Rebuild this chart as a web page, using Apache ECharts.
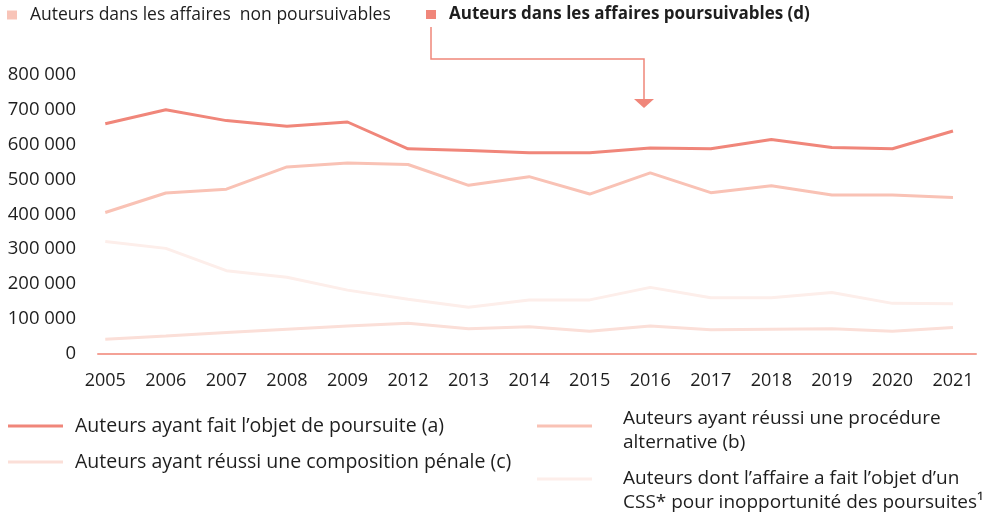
<!DOCTYPE html>
<html>
<head>
<meta charset="utf-8">
<script src="https://cdn.jsdelivr.net/npm/echarts@6/dist/echarts.min.js"></script>
<style>
  html, body { margin: 0; padding: 0; background: #fff; }
  #main { width: 988px; height: 513px; }
</style>
</head>
<body>
<div id="main"></div>
<script>
// annees (axe x)
var years = ["2005", "2006", "2007", "2008", "2009", "2012", "2013", "2014", "2015", "2016", "2017", "2018", "2019", "2020", "2021"];

// series
var poursuite = [660000, 700000, 669000, 653000, 665000, 588000, 583000, 577000, 577000, 590000, 588000, 615000, 592000, 588000, 639000];
var alternative = [405000, 461000, 472000, 536000, 547000, 543000, 483000, 508000, 458000, 519000, 462000, 482000, 455000, 455000, 448000];
var composition = [41000, 50000, 60000, 70000, 79000, 87000, 71000, 77000, 64000, 79000, 68000, 70000, 71000, 64000, 75000];
var css = [322000, 302000, 238000, 219000, 182000, 156000, 133000, 154000, 154000, 190000, 160000, 160000, 175000, 144000, 143000];

var nameA = "Auteurs ayant fait l\u2019objet de poursuite (a)";
var nameB = "Auteurs ayant réussi une procédure\nalternative (b)";
var nameC = "Auteurs ayant réussi une composition pénale (c)";
var nameCss = "Auteurs dont l\u2019affaire a fait l\u2019objet d\u2019un\nCSS* pour inopportunité des poursuites\u00b9";
var nameNon = "Auteurs dans les affaires  non poursuivables";
var nameD = "Auteurs dans les affaires poursuivables (d)";

var colA = "#f0867a";
var colB = "#f9c2b5";
var colC = "#fbdfd8";
var colCss = "#fdeeea";
var FONT = "Open Sans";

// trait de legende place en haut de l'item (textes sur 2 lignes)
var iconB = "path://M0,0H55V3H0Z M0,13L0.01,13Z";
var iconCss = "path://M0,0H55V3H0Z M0,27L0.01,27Z";

function fmtNum(v) {
  return String(v).replace(/\B(?=(\d{3})+(?!\d))/g, " ");
}
function pairs(arr) {
  return arr.map(function (v, i) { return [i, v]; });
}
var xIdx = years.map(function (y, i) { return i; });

function lineSerie(name, col, arr, z) {
  return {
    name: name,
    type: "line",
    data: pairs(arr),
    symbol: "none",
    z: z,
    lineStyle: { color: col, width: 3 },
    itemStyle: { color: col }
  };
}

var bottomText = { fontSize: 19.5, color: "#1e1e1e", fontFamily: FONT, padding: [0, 0, 0, 7] };
var bottomText2 = { fontSize: 19, color: "#1e1e1e", fontFamily: FONT, lineHeight: 24, padding: [0, 0, 0, 26] };

var chart = echarts.init(document.getElementById("main"));
var option = {
  animation: false,
  textStyle: { fontFamily: FONT },
  grid: { left: 98, right: 12, top: 75, bottom: 159.5, containLabel: false },
  legend: [
    {
      data: [nameNon], left: 7, top: 6, padding: 0, icon: "rect", itemWidth: 10, itemHeight: 9,
      textStyle: { fontSize: 17.5, color: "#1e1e1e", fontFamily: FONT, padding: [0, 0, 0, 8] }, selectedMode: false
    },
    {
      data: [nameD], left: 426, top: 6, padding: 0, icon: "rect", itemWidth: 10, itemHeight: 9,
      textStyle: { fontSize: 17, color: "#1e1e1e", fontWeight: "bold", fontFamily: FONT, padding: [0, 0, 0, 8] }, selectedMode: false
    },
    {
      data: [nameA], left: 8, top: 416, padding: 0, icon: "rect", itemWidth: 55, itemHeight: 3,
      textStyle: bottomText, selectedMode: false
    },
    {
      data: [nameC], left: 8, top: 452, padding: 0, icon: "rect", itemWidth: 55, itemHeight: 3,
      textStyle: bottomText, selectedMode: false
    },
    {
      data: [nameB], left: 537, top: 407, padding: 0, icon: iconB, itemWidth: 55, itemHeight: 13,
      textStyle: bottomText2, selectedMode: false
    },
    {
      data: [nameCss], left: 537, top: 467, padding: 0, icon: iconCss, itemWidth: 55, itemHeight: 27,
      textStyle: bottomText2, selectedMode: false
    }
  ],
  xAxis: {
    type: "value",
    min: -0.12,
    max: 14.38,
    splitLine: { show: false },
    axisTick: { show: false },
    axisLine: { show: true, onZero: false, lineStyle: { color: "#f4a196", width: 2 } },
    axisLabel: {
      customValues: xIdx,
      formatter: function (v) { return years[Math.round(v)]; },
      color: "#1e1e1e",
      fontSize: 18,
      fontFamily: FONT,
      margin: 18
    }
  },
  yAxis: {
    type: "value",
    min: 0,
    max: 800000,
    interval: 100000,
    splitLine: { show: false },
    axisTick: { show: false },
    axisLine: { show: false },
    axisLabel: {
      formatter: fmtNum,
      color: "#1e1e1e",
      fontSize: 18.5,
      fontFamily: FONT,
      margin: 22
    }
  },
  graphic: [
    {
      type: "polyline",
      shape: { points: [[431, 27], [431, 59], [644, 59], [644, 99]] },
      style: { stroke: colA, lineWidth: 1.5, fill: null }
    },
    {
      type: "polygon",
      shape: { points: [[634, 99], [654, 99], [644, 108]] },
      style: { fill: colA }
    }
  ],
  series: [
    { name: nameNon, type: "line", data: [], itemStyle: { color: "#f8c4b8" } },
    { name: nameD, type: "line", data: [], itemStyle: { color: colA } },
    lineSerie(nameCss, colCss, css, 2),
    lineSerie(nameC, colC, composition, 3),
    lineSerie(nameB, colB, alternative, 4),
    lineSerie(nameA, colA, poursuite, 5)
  ]
};
chart.setOption(option);
</script>
</body>
</html>
